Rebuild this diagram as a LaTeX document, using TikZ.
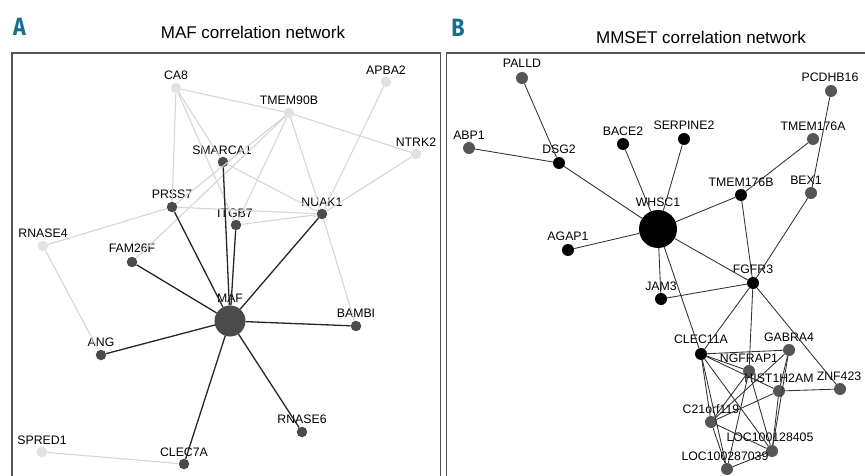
\documentclass[tikz,border=0pt]{standalone}
\usepackage{fontspec}
\setmainfont{Liberation Sans}
\newfontfamily\panelfont[FakeStretch=0.86]{Fira Sans}
\definecolor{alight}{HTML}{E2E2E2}
\definecolor{adark}{HTML}{4B4B4B}
\definecolor{aedgel}{HTML}{D6D6D6}
\definecolor{aedged}{HTML}{262626}
\definecolor{bgray}{HTML}{555555}
\definecolor{bedge}{HTML}{303030}
\definecolor{framecol}{HTML}{555555}
\definecolor{panelblue}{RGB}{22,110,150}
\tikzset{
  nd/.style={circle,inner sep=0pt,minimum size=10.5pt},
  alt/.style={nd,fill=alight},
  adk/.style={nd,fill=adark},
  bbk/.style={nd,fill=black,minimum size=12pt},
  bgr/.style={nd,fill=bgray,minimum size=12pt},
  txt/.style={font=\fontsize{12.3}{12}\selectfont,inner sep=0pt,text height=8.8pt,text depth=0pt},
  ttl/.style={font=\fontsize{17}{17}\selectfont,inner sep=0pt,text height=12pt,text depth=0pt},
  pnl/.style={font=\panelfont\bfseries\fontsize{25}{25}\selectfont,text=panelblue,inner sep=0pt,text height=17pt,text depth=0pt},
  le/.style={draw=aedgel,line width=1.1pt},
  de/.style={draw=aedged,line width=1.3pt},
  be/.style={draw=bedge,line width=0.85pt},
  frm/.style={draw=framecol,line width=1.6pt},
}
\newcommand\mknode[6]{\node[#1] (#2) at (#3,#4) {}; \node[txt] (#2t) at (#5,#6) {#2};}
\begin{document}
\begin{tikzpicture}[x=1pt,y=-1pt]
\useasboundingbox (0,0) rectangle (865,476);
\clip (0,0) rectangle (865,476);
\fill[white] (0,0) rectangle (865,476);
% frames
\coordinate (fa1) at (12,490); \coordinate (fa2) at (12,53.3); \coordinate (fa3) at (440.5,53.3); \coordinate (fa4) at (440.5,490);
\draw[frm] (fa1) -- (fa2) -- (fa3) -- (fa4);
\coordinate (fb1) at (446.5,490); \coordinate (fb2) at (446.5,53.3); \coordinate (fb3) at (880,53.3);
\draw[frm] (fb1) -- (fb2) -- (fb3);
% titles
\node[pnl] (pA) at (19.5,27) {A};
\node[pnl] (pB) at (458,28) {B};
\node[ttl] (tA) at (253,33) {MAF correlation network};
\node[ttl] (tB) at (701,38) {MMSET correlation network};
% ---------- panel A nodes
\mknode{alt}{CA8}{176}{88}{176}{75}
\mknode{alt}{APBA2}{386}{82}{386}{70}
\mknode{alt}{TMEM90B}{289}{113}{289}{100}
\mknode{alt}{NTRK2}{416}{154}{416}{142}
\mknode{adk}{SMARCA1}{223}{162}{222}{150}
\mknode{adk}{PRSS7}{172}{207}{172}{194}
\mknode{adk}{ITGB7}{236}{225}{235}{213}
\mknode{adk}{NUAK1}{322}{214}{322}{202}
\mknode{alt}{RNASE4}{43}{246}{43}{233}
\mknode{adk}{FAM26F}{132}{262}{132}{248}
\mknode{adk,minimum size=31pt}{MAF}{230}{321}{230}{298}
\mknode{adk}{BAMBI}{356}{326}{356}{313}
\mknode{adk}{ANG}{101}{355}{101}{342}
\mknode{adk}{RNASE6}{302}{432}{302}{419}
\mknode{alt}{SPRED1}{42}{452}{42}{440}
\mknode{adk}{CLEC7A}{184}{464}{184}{452}
% panel A edges
\foreach \a/\b in {CA8/TMEM90B,TMEM90B/NTRK2,CA8/PRSS7,CA8/SMARCA1,CA8/ITGB7,
  TMEM90B/PRSS7,TMEM90B/FAM26F,TMEM90B/ITGB7,TMEM90B/NUAK1,NUAK1/BAMBI,
  APBA2/NUAK1,NTRK2/NUAK1,SMARCA1/NUAK1,PRSS7/NUAK1,ITGB7/NUAK1,
  PRSS7/RNASE4,RNASE4/ANG,SPRED1/CLEC7A}
  \draw[le] (\a) -- (\b);
\foreach \b in {SMARCA1,PRSS7,ITGB7,NUAK1,FAM26F,ANG,BAMBI,RNASE6,CLEC7A}
  \draw[de] (MAF) -- (\b);
% ---------- panel B nodes
\mknode{bgr}{PALLD}{522}{78}{522}{63}
\mknode{bgr}{PCDHB16}{831}{91}{830}{77}
\mknode{bgr}{ABP1}{469}{148}{469}{135}
\mknode{bbk}{BACE2}{623}{144}{623}{131}
\mknode{bbk}{SERPINE2}{684}{139}{684}{125}
\mknode{bgr}{TMEM176A}{813}{139}{813}{126}
\mknode{bbk}{DSG2}{559}{163}{559}{149}
\mknode{bbk}{TMEM176B}{741}{195}{741}{182}
\mknode{bgr}{BEX1}{811}{193}{806}{180}
\mknode{bbk,minimum size=38pt}{WHSC1}{658}{229}{658}{202}
\mknode{bbk}{AGAP1}{568}{250}{568}{236}
\mknode{bbk}{FGFR3}{753}{283}{753}{269}
\mknode{bbk}{JAM3}{661}{299}{661}{286}
\mknode{bbk}{CLEC11A}{701}{354}{701}{339}
\mknode{bgr}{GABRA4}{789}{350}{789}{337}
\mknode{bgr}{NGFRAP1}{749}{371}{749}{358}
\mknode{bgr}{HIST1H2AM}{779}{391}{779}{378}
\mknode{bgr}{ZNF423}{840}{389}{839}{376}
\mknode{bgr}{C21orf119}{711}{422}{711}{409}
\mknode{bgr}{LOC100128405}{772}{451}{770}{437}
\mknode{bgr}{LOC100287039}{727}{469}{725}{456}
% panel B edges
\foreach \a/\b in {PALLD/DSG2,ABP1/DSG2,DSG2/WHSC1,BACE2/WHSC1,SERPINE2/WHSC1,
  TMEM176B/WHSC1,TMEM176B/TMEM176A,PCDHB16/BEX1,BEX1/FGFR3,TMEM176B/FGFR3,
  AGAP1/WHSC1,WHSC1/FGFR3,WHSC1/JAM3,WHSC1/CLEC11A,JAM3/FGFR3,FGFR3/CLEC11A,
  FGFR3/NGFRAP1,FGFR3/ZNF423,CLEC11A/GABRA4,CLEC11A/NGFRAP1,CLEC11A/HIST1H2AM,
  CLEC11A/C21orf119,CLEC11A/LOC100287039,CLEC11A/LOC100128405,GABRA4/C21orf119,
  GABRA4/HIST1H2AM,GABRA4/LOC100128405,HIST1H2AM/ZNF423,HIST1H2AM/C21orf119,
  HIST1H2AM/LOC100128405,NGFRAP1/C21orf119,NGFRAP1/LOC100287039,
  NGFRAP1/LOC100128405,C21orf119/LOC100128405,C21orf119/LOC100287039,
  LOC100287039/LOC100128405}
  \draw[be] (\a) -- (\b);
\end{tikzpicture}
\end{document}
